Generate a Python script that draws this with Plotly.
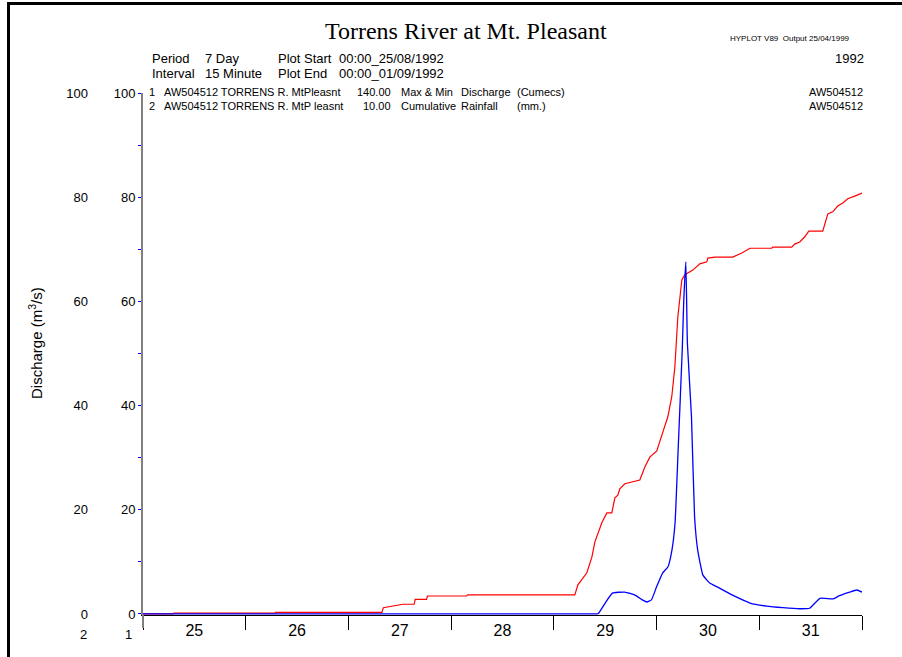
import datetime as dt
import plotly.graph_objects as go

# ---------------- data (x in day-of-month, fractional; 32 = 1 Sep) ----------------
discharge_day = [25.0, 29.38, 29.43, 29.50, 29.57, 29.69, 29.79, 29.87, 29.905, 29.95, 30.0,
                 30.06, 30.11, 30.15, 30.18, 30.21, 30.25, 30.265, 30.285, 30.30, 30.34,
                 30.37, 30.40, 30.45, 30.49, 30.52, 30.59, 30.74, 30.91, 31.07, 31.23,
                 31.39, 31.49, 31.59, 31.72, 31.78, 31.88, 31.95, 32.0]
discharge_value = [0.0, 0.0, 0.05, 2.1, 4.0, 4.2, 3.6, 2.6, 2.3, 2.7, 5.2,
                   7.9, 9.0, 12.3, 17.5, 31.5, 50.7, 60.3, 67.6, 52.0, 37.8,
                   18.6, 12.3, 7.5, 6.5, 5.9, 5.2, 3.6, 2.1, 1.5, 1.2,
                   1.0, 1.1, 3.0, 2.9, 3.5, 4.2, 4.6, 4.2]

rain_day = [25.0, 25.29, 25.30, 26.28, 26.29, 27.326, 27.34, 27.43, 27.53, 27.64,
            27.65, 27.76, 27.77, 28.15, 28.16, 29.204, 29.234, 29.321, 29.370, 29.399,
            29.467, 29.516, 29.564, 29.594, 29.623, 29.642, 29.691, 29.837, 29.886, 29.934,
            30.002, 30.061, 30.109, 30.148, 30.178, 30.207, 30.246, 30.275, 30.353, 30.421,
            30.489, 30.499, 30.567, 30.742, 30.830, 30.908, 31.122, 31.131, 31.316, 31.345,
            31.394, 31.443, 31.482, 31.618, 31.637, 31.667, 31.715, 31.764, 31.813, 31.861,
            31.929, 32.0]
rain_value = [0.0, 0.0, 0.15, 0.15, 0.3, 0.3, 1.2, 1.5, 1.86, 1.86,
              2.8, 2.8, 3.45, 3.45, 3.65, 3.65, 5.6, 7.9, 10.9, 13.8,
              17.5, 19.4, 19.4, 22.3, 22.8, 24.0, 25.0, 25.7, 28.2, 30.1,
              31.3, 34.9, 37.8, 41.7, 47.4, 57.0, 64.1, 65.1, 66.0, 67.2,
              67.6, 68.3, 68.5, 68.5, 69.3, 70.2, 70.2, 70.4, 70.4, 71.0,
              71.4, 72.4, 73.5, 73.5, 75.0, 76.8, 77.2, 78.3, 78.9, 79.7,
              80.2, 80.8]

y_tick_values = [0, 20, 40, 60, 80, 100]
y_tick_labels = ["0", "20", "40", "60", "80", "100"]

START = dt.datetime(1992, 8, 25)


def to_time(days):
    return [START + dt.timedelta(days=d - 25) for d in days]


W, H = 902, 657
ML, MR, MT, MB = 143, 40, 93, 42
PW, PH = W - ML - MR, H - MT - MB


def xp(px):
    return (px - ML) / PW


def yp(py):
    return (H - MB - py) / PH


SANS = "Liberation Sans, Arial, sans-serif"
SERIF = "Liberation Serif, Times New Roman, serif"

fig = go.Figure()
fig.add_trace(go.Scatter(x=to_time(rain_day), y=rain_value, mode="lines",
                         line=dict(color="#ff0000", width=1.2), yaxis="y",
                         showlegend=False, hoverinfo="skip"))
fig.add_trace(go.Scatter(x=to_time(discharge_day), y=discharge_value, mode="lines",
                         line=dict(color="#0000ff", width=1.3, shape="spline", smoothing=0.4),
                         yaxis="y2", showlegend=False, hoverinfo="skip"))

yrange = [-0.2, 100]

fig.update_layout(
    width=W, height=H,
    margin=dict(l=ML, r=MR, t=MT, b=MB, pad=0),
    paper_bgcolor="white", plot_bgcolor="white",
    font=dict(family=SANS, color="black"),
    xaxis=dict(
        type="date",
        range=[START, START + dt.timedelta(days=7)],
        dtick=86400000, tick0=START,
        tickformat="%d", ticklabelmode="period",
        ticks="outside", ticklen=14, tickcolor="black", tickwidth=1,
        showline=True, linecolor="black", linewidth=1,
        showgrid=False, zeroline=False, layer="below traces",
        tickfont=dict(size=16, family=SANS, color="black"),
        ticklabelstandoff=-13,
    ),
    yaxis=dict(
        range=yrange, tickvals=y_tick_values, ticktext=y_tick_labels,
        ticks="", showline=False, showgrid=False, zeroline=False,
        tickfont=dict(size=13, family=SANS, color="black"),
        ticklabelstandoff=54,
    ),
    yaxis2=dict(
        range=yrange, overlaying="y", anchor="x", side="left",
        tickvals=y_tick_values, ticktext=y_tick_labels,
        ticks="outside", ticklen=3, tickcolor="#0000ff", tickwidth=1,
        minor=dict(dtick=10, tick0=0, ticks="outside", ticklen=3, tickcolor="#0000ff"),
        showline=True, linecolor="#808080", linewidth=2,
        showgrid=False, zeroline=False,
        tickfont=dict(size=13, family=SANS, color="black"),
    ),
)

ann = []


def text(t, x, y, size, anchor="left", family=SANS, **kw):
    ann.append(dict(text=t, x=xp(x), y=yp(y), xref="paper", yref="paper",
                    xanchor=anchor, yanchor="middle", showarrow=False,
                    font=dict(size=size, family=family, color="black"), **kw))


NB = "\u00a0"
text("Torrens River at Mt. Pleasant", 466, 31, 24, "center", SERIF)
text("HYPLOT V89" + NB + NB + "Output 25/04/1999", 728, 38, 8)
text("1992", 866, 58, 13, "right")

text("Period", 150, 58, 13)
text("7 Day", 203, 58, 13)
text("Plot Start", 276, 58, 13)
text("00:00_25/08/1992", 337, 58, 13)
text("Interval", 150, 74, 13)
text("15 Minute", 203, 74, 13)
text("Plot End", 276, 74, 13)
text("00:00_01/09/1992", 337, 74, 13)

text("1", 147, 92, 11)
text("AW504512 TORRENS R. MtPleasnt", 162, 92, 11)
text("140.00", 393, 92, 11, "right")
text("Max & Min", 399, 92, 11)
text("Discharge", 459, 92, 11)
text("(Cumecs)", 515, 92, 11)
text("AW504512", 865, 92, 11, "right")

text("2", 147, 106, 11)
text("AW504512 TORRENS R. MtP leasnt", 162, 106, 11)
text("10.00", 393, 106, 11, "right")
text("Cumulative", 399, 106, 11)
text("Rainfall", 459, 106, 11)
text("(mm.)", 515, 106, 11)
text("AW504512", 865, 106, 11, "right")

text("Discharge (m<sup>3</sup>/s)", 35, 343, 15, "center", textangle=-90)
text("2", 83, 634, 13, "center")
text("1", 128, 634, 13, "center")

fig.update_layout(annotations=ann)

shapes = [
    # frame
    dict(type="line", xref="paper", yref="paper", x0=xp(7), x1=xp(W + 2), y0=yp(3.5), y1=yp(3.5),
         line=dict(color="black", width=3)),
    dict(type="line", xref="paper", yref="paper", x0=xp(8.5), x1=xp(8.5), y0=yp(2), y1=yp(H + 2),
         line=dict(color="black", width=3)),
    # y axis line extension below zero
    dict(type="line", xref="paper", yref="paper", x0=0, x1=0, y0=0, y1=yp(628),
         line=dict(color="#808080", width=2)),
]
fig.update_layout(shapes=shapes)

fig.write_html("out.html", config={"displayModeBar": False},
               post_script="document.body.style.margin='0';document.body.style.overflow='hidden';")
